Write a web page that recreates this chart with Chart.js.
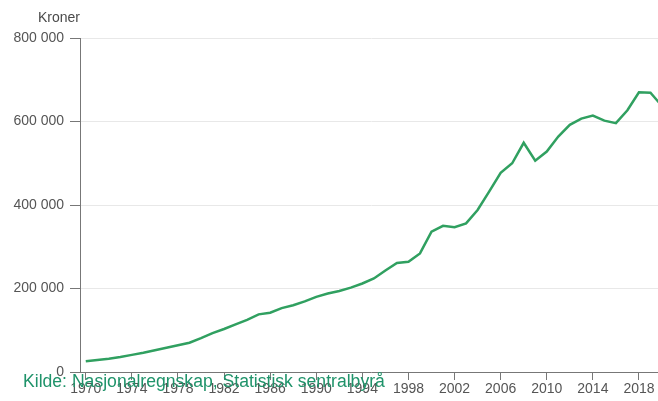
<!DOCTYPE html>
<html>
<head>
<meta charset="utf-8">
<title>BNP per innbygger</title>
<script src="https://cdn.jsdelivr.net/npm/chart.js@4/dist/chart.umd.min.js"></script>
<style>
  html, body { margin: 0; padding: 0; overflow: hidden; background: #fff; }
  #wrap { position: relative; width: 662px; height: 401px; }
</style>
</head>
<body>
<div id="wrap"><canvas id="c" width="662" height="401"></canvas></div>
<script>
// Bruttonasjonalprodukt per innbygger, kroner (løpende priser)
const years = [];
for (let y = 1970; y <= 2020; y++) years.push(y);

const values = [
  26000, 29000, 32000, 36000, 41000, 46000, 52000, 58000, 64000, 70000,
  81000, 93000, 103000, 114000, 125000, 138000, 142000, 153000, 160000, 169000,
  180000, 188000, 194000, 202000, 212000, 224000, 243000, 261000, 264000, 284000,
  336000, 350000, 347000, 356000, 388000, 432000, 477000, 500000, 549000, 506000,
  528000, 564000, 592000, 607000, 614000, 602000, 596000, 627000, 670000, 669000,
  637000
];

const xTickYears = [1970, 1974, 1978, 1982, 1986, 1990, 1994, 1998, 2002, 2006, 2010, 2014, 2018];
const yTicks = [0, 200000, 400000, 600000, 800000];

const unitLabel = 'Kroner';
const sourceLabel = 'Kilde: Nasjonalregnskap, Statistisk sentralbyrå';

const FONT = '"Liberation Sans", Arial, Helvetica, sans-serif';
const TICK_COLOR = '#555555';
const AXIS_COLOR = '#777777';
const LINE_COLOR = '#30a060';
const SOURCE_COLOR = '#1f936a';

const fmtThousands = v => String(v).replace(/\B(?=(\d{3})+(?!\d))/g, ' ');

// Unit label at the top and source note along the bottom
const annotations = {
  id: 'annotations',
  afterDraw(chart) {
    const ctx = chart.ctx;
    ctx.save();
    ctx.textBaseline = 'alphabetic';
    ctx.textAlign = 'left';
    ctx.fillStyle = '#4a4a4a';
    ctx.font = '14px ' + FONT;
    ctx.fillText(unitLabel, 38, 22);
    ctx.fillStyle = SOURCE_COLOR;
    ctx.font = '17.6px ' + FONT;
    ctx.fillText(sourceLabel, 23, 387);
    ctx.restore();
  }
};

new Chart(document.getElementById('c'), {
  type: 'line',
  data: {
    datasets: [{
      data: years.map((y, i) => ({ x: y, y: values[i] })),
      borderColor: LINE_COLOR,
      borderWidth: 2.5,
      pointRadius: 0,
      tension: 0,
      fill: false
    }]
  },
  options: {
    responsive: false,
    animation: false,
    events: [],
    layout: { padding: { top: 38, right: 0, bottom: 0, left: 0 } },
    plugins: { legend: { display: false }, tooltip: { enabled: false } },
    scales: {
      x: {
        type: 'linear',
        min: 1969.5,
        max: 2020,
        afterBuildTicks(scale) {
          scale.ticks = xTickYears.map(v => ({ value: v }));
        },
        afterFit(scale) { scale.height = 29; },
        border: { color: AXIS_COLOR, width: 1 },
        grid: { drawOnChartArea: false, tickColor: AXIS_COLOR, tickLength: 8 },
        ticks: {
          color: TICK_COLOR,
          font: { family: FONT, size: 14 },
          padding: 1,
          maxRotation: 0,
          autoSkip: false,
          callback: v => String(v)
        }
      },
      y: {
        min: 0,
        max: 800000,
        afterBuildTicks(scale) {
          scale.ticks = yTicks.map(v => ({ value: v }));
        },
        afterFit(scale) { scale.width = 80; },
        border: { color: AXIS_COLOR, width: 1 },
        grid: { color: '#e8e8e8', tickColor: AXIS_COLOR, tickLength: 10, lineWidth: 1 },
        ticks: {
          color: TICK_COLOR,
          font: { family: FONT, size: 14 },
          padding: 6,
          callback: v => fmtThousands(v)
        }
      }
    }
  },
  plugins: [annotations]
});
</script>
</body>
</html>
